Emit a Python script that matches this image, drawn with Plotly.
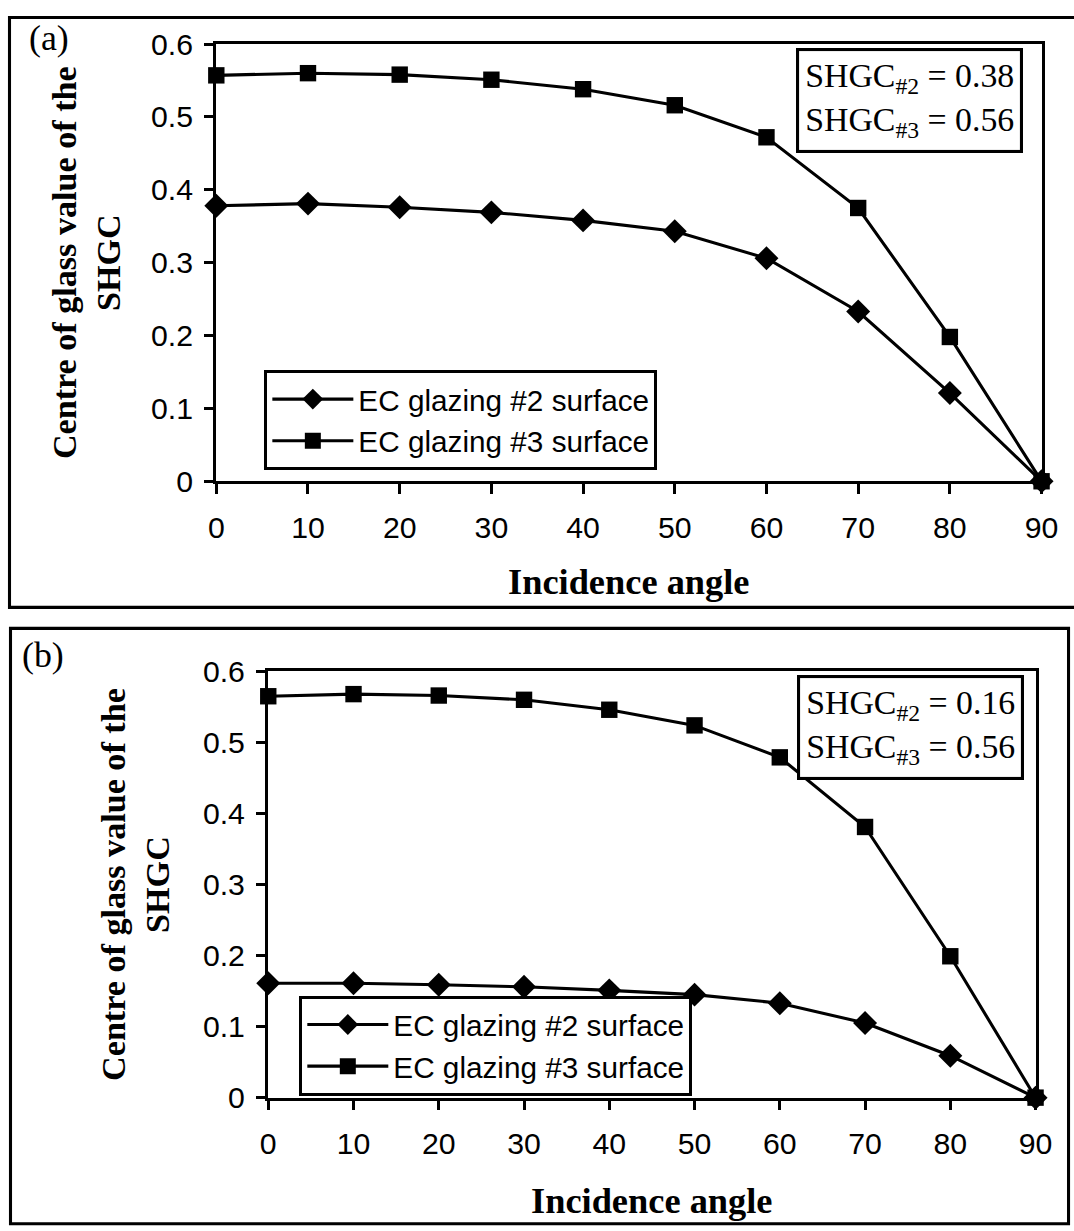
import plotly.graph_objects as go

# Observed capture transform: shown = offset + scale * figure pixel.
# Layout positions below are given in the reference picture's pixels and mapped back.
OX, OY = 6.5, 16.0
SX, SY = 0.978, 0.973
S = (SX + SY) / 2
FW = round((1074 - OX) / SX)
FH = round((1231 - OY) / SY)

angles = [0, 10, 20, 30, 40, 50, 60, 70, 80, 90]
a_ec2 = [0.378, 0.381, 0.376, 0.369, 0.358, 0.343, 0.306, 0.233, 0.121, 0.0]
a_ec3 = [0.557, 0.560, 0.558, 0.551, 0.538, 0.516, 0.472, 0.375, 0.198, 0.0]
b_ec2 = [0.161, 0.161, 0.159, 0.156, 0.151, 0.145, 0.133, 0.105, 0.059, 0.0]
b_ec3 = [0.565, 0.568, 0.566, 0.560, 0.546, 0.524, 0.479, 0.381, 0.199, 0.0]
series_names = ["EC glazing #2 surface", "EC glazing #3 surface"]
x_ticks = [0, 10, 20, 30, 40, 50, 60, 70, 80, 90]
y_ticks = [0, 0.1, 0.2, 0.3, 0.4, 0.5, 0.6]
y_tick_text = ["0", "0.1", "0.2", "0.3", "0.4", "0.5", "0.6"]
box_a = ["SHGC<sub>#2</sub> = 0.38", "SHGC<sub>#3</sub> = 0.56"]
box_b = ["SHGC<sub>#2</sub> = 0.16", "SHGC<sub>#3</sub> = 0.56"]
y_title = "Centre of glass value of the<br>SHGC"
x_title = "Incidence angle"

SANS = "Liberation Sans, Arial, sans-serif"
SERIF = "Liberation Serif, Times New Roman, serif"

def px(x):
    return (x - OX) / SX / FW

def py(y):
    return 1 - (y - OY) / SY / FH

def fs(v):
    return v / S

# plot areas (reference pixels)
A = dict(x0=215, x1=1041, y0=44, y1=481)
B = dict(x0=267, x1=1035, y0=671, y1=1097)

fig = go.Figure()

def add_series(xa, ya, ys2, ys3, legend):
    fig.add_trace(go.Scatter(
        x=angles, y=ys2, name=series_names[0], mode="lines+markers",
        xaxis=xa, yaxis=ya, legend=legend, cliponaxis=False,
        line=dict(color="black", width=fs(3)),
        marker=dict(symbol="diamond", size=fs(18), color="black")))
    fig.add_trace(go.Scatter(
        x=angles, y=ys3, name=series_names[1], mode="lines+markers",
        xaxis=xa, yaxis=ya, legend=legend, cliponaxis=False,
        line=dict(color="black", width=fs(3)),
        marker=dict(symbol="square", size=fs(16), color="black")))

add_series("x", "y", a_ec2, a_ec3, "legend")
add_series("x2", "y2", b_ec2, b_ec3, "legend2")

TICKFONT = dict(family=SANS, size=fs(29.5), color="black")

def xaxis_base(P, anchor):
    return dict(domain=[px(P["x0"]), px(P["x1"])], range=[0, 90], anchor=anchor,
                tickvals=x_ticks, ticks="outside", ticklen=fs(9), tickwidth=fs(3),
                tickcolor="black", showline=True, linecolor="black", linewidth=fs(3),
                mirror=True, showgrid=False, zeroline=False,
                tickfont=TICKFONT, ticklabelstandoff=8)

def yaxis_base(P, anchor):
    return dict(domain=[py(P["y1"]), py(P["y0"])], range=[0, 0.6], anchor=anchor,
                tickvals=y_ticks, ticktext=y_tick_text, ticks="outside", ticklen=fs(9),
                tickwidth=fs(3), tickcolor="black", showline=True, linecolor="black",
                linewidth=fs(3), mirror=True, showgrid=False, zeroline=False,
                tickfont=TICKFONT, ticklabelstandoff=5)

def x_overlay(base, anchor):
    return dict(overlaying=base, anchor=anchor, range=[0, 90], tickvals=x_ticks,
                ticks="inside", ticklen=fs(9), tickwidth=fs(3), tickcolor="black",
                showticklabels=False, showline=False, showgrid=False, zeroline=False)

def y_overlay(base, anchor):
    return dict(overlaying=base, anchor=anchor, range=[0, 0.6], tickvals=y_ticks,
                ticks="inside", ticklen=fs(9), tickwidth=fs(3), tickcolor="black",
                showticklabels=False, showline=False, showgrid=False, zeroline=False)

legend_common = dict(
    xanchor="left", yanchor="top", bgcolor="white", bordercolor="black",
    borderwidth=fs(3), font=dict(family=SANS, size=fs(29), color="black"),
    itemwidth=81, tracegroupgap=0)

fig.update_layout(
    width=FW, height=FH, margin=dict(l=0, r=0, t=0, b=0),
    paper_bgcolor="white", plot_bgcolor="white",
    xaxis=xaxis_base(A, "y"),
    yaxis=yaxis_base(A, "x"),
    xaxis2=xaxis_base(B, "y2"),
    yaxis2=yaxis_base(B, "x2"),
    xaxis3=x_overlay("x", "y"),
    yaxis3=y_overlay("y", "x"),
    xaxis4=x_overlay("x2", "y2"),
    yaxis4=y_overlay("y2", "x2"),
    legend=dict(x=px(263), y=py(370), **legend_common),
    legend2=dict(x=px(298), y=py(995), **legend_common),
)

annotations = []
# panel labels
annotations.append(dict(text="(a)", x=px(26), y=py(16), xref="paper", yref="paper",
                        xanchor="left", yanchor="top", showarrow=False,
                        font=dict(family=SERIF, size=fs(35), color="black")))
annotations.append(dict(text="(b)", x=px(19), y=py(633), xref="paper", yref="paper",
                        xanchor="left", yanchor="top", showarrow=False,
                        font=dict(family=SERIF, size=fs(35), color="black")))
# y titles
for cx, P in ((85, A), (134, B)):
    annotations.append(dict(text="<b>" + y_title + "</b>", x=px(cx),
                            y=py((P["y0"] + P["y1"]) / 2), xref="paper", yref="paper",
                            xanchor="center", yanchor="middle", textangle=-90,
                            showarrow=False,
                            font=dict(family=SERIF, size=fs(33.3), color="black")))
# x titles
for cy, P in ((582, A), (1200, B)):
    annotations.append(dict(text="<b>" + x_title + "</b>", x=px((P["x0"] + P["x1"]) / 2),
                            y=py(cy), xref="paper", yref="paper",
                            xanchor="center", yanchor="middle", showarrow=False,
                            font=dict(family=SERIF, size=fs(35.5), color="black")))
# SHGC boxes (left edge, top edge in reference pixels)
for lines, lx, ty in ((box_a, 795, 48), (box_b, 796, 675)):
    annotations.append(dict(text="<br>".join(lines), x=px(lx), y=py(ty),
                            xref="paper", yref="paper", xanchor="left", yanchor="top",
                            align="left", showarrow=False, bgcolor="white",
                            bordercolor="black", borderwidth=fs(3), borderpad=fs(6),
                            font=dict(family=SERIF, size=fs(33), color="black")))
fig.update_layout(annotations=annotations)

# outer panel frames
shapes = [
    dict(type="rect", xref="paper", yref="paper", x0=px(8), x1=1.02,
         y0=py(607), y1=py(17.5), line=dict(color="black", width=fs(3))),
    dict(type="rect", xref="paper", yref="paper", x0=px(9), x1=px(1068),
         y0=py(1223), y1=py(628), line=dict(color="black", width=fs(3))),
]
fig.update_layout(shapes=shapes)

fig.write_html("out.html")
